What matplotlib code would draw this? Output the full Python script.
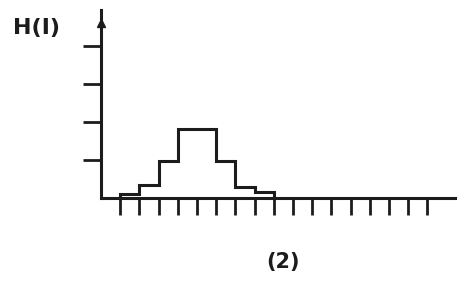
import matplotlib.pyplot as plt

# histogram
bin_edges = [1, 2, 3, 4, 6, 7, 8, 9]
heights = [0.1, 0.34, 0.97, 1.82, 0.97, 0.3, 0.16]
x_ticks = list(range(1, 18))
y_ticks = [1, 2, 3, 4]

ink = '#1c1c1c'

fig = plt.figure(figsize=(4.62, 2.82), dpi=100)
ax = fig.add_axes([101 / 462, 84 / 282, 354 / 462, 188 / 282])
ax.set_xlim(0, 354 / 19.2)
ax.set_ylim(0, 188 / 38)

ax.stairs(heights, bin_edges, baseline=0, color=ink, lw=2.2)

for s in ['top', 'right']:
    ax.spines[s].set_visible(False)
for s in ['left', 'bottom']:
    ax.spines[s].set_linewidth(2.2)
    ax.spines[s].set_color(ink)

ax.set_xticks(x_ticks)
ax.set_yticks(y_ticks)
ax.set_xticklabels([])
ax.set_yticklabels([])
ax.tick_params(axis='x', direction='out', length=12, width=2, color=ink)
ax.tick_params(axis='y', direction='out', length=13, width=2, color=ink)

# arrow head on the y axis
ax.plot([0], [188 / 38 - 0.35], marker='^', ms=6, color=ink, clip_on=False)

fig.text(13 / 462, 1 - 28 / 282, 'H(I)', fontsize=16, fontweight='bold',
         color=ink, va='center', ha='left')
fig.text(283 / 462, 1 - 262 / 282, '(2)', fontsize=15, fontweight='bold',
         color=ink, va='center', ha='center')

fig.savefig('out.png', dpi=100, facecolor='white')
